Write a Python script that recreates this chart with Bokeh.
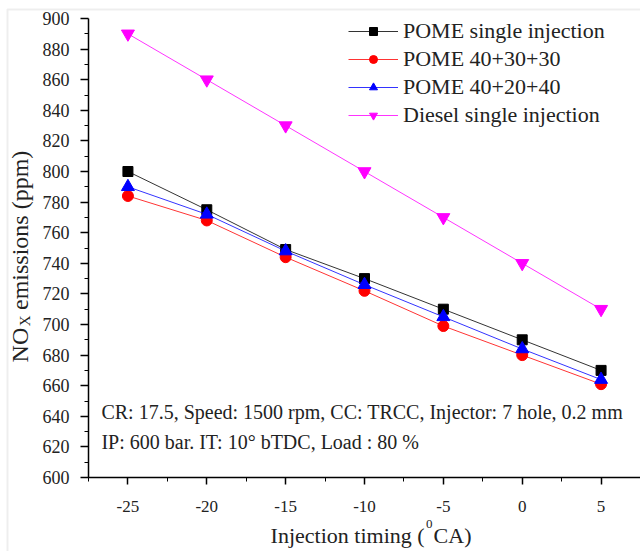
import math
from bokeh.plotting import figure
from bokeh.models import (Range1d, FixedTicker, Legend, LegendItem, Label, BoxAnnotation, LinearAxis)
from bokeh.embed import file_html
from bokeh.resources import INLINE

# ---- data ----
timing = [-25, -20, -15, -10, -5, 0, 5]
pome_single = [800, 775, 749, 730, 710, 690, 670]
pome_403030 = [784, 768, 744, 722, 699, 680, 661]
pome_402040 = [790, 772, 748, 726, 705, 684, 664]
diesel_single = [890, 860, 830, 800, 770, 740, 710]

series_names = ["POME single injection", "POME 40+30+30", "POME 40+20+40", "Diesel single injection"]
x_ticks = [-25, -20, -15, -10, -5, 0, 5]
x_minor = [-27.5, -22.5, -17.5, -12.5, -7.5, -2.5, 2.5, 7.5]
y_ticks = [600, 620, 640, 660, 680, 700, 720, 740, 760, 780, 800, 820, 840, 860, 880, 900]
y_minor = [610, 630, 650, 670, 690, 710, 730, 750, 770, 790, 810, 830, 850, 870, 890]

note1 = "CR: 17.5, Speed: 1500 rpm, CC: TRCC, Injector: 7 hole, 0.2 mm"
note2 = "IP: 600 bar. IT: 10\u00b0 bTDC, Load : 80 %"

FONT = "Liberation Serif"
XMIN, XMAX = -27.5, 7.5
YMIN, YMAX = 600, 900

# frame covers the whole canvas; axes are pinned inside with fixed_location
p = figure(width=640, height=551, output_backend="svg", toolbar_location=None,
           x_range=Range1d(-33.08, 7.5), y_range=Range1d(551.634, 911.765),
           x_axis_location=None, y_axis_location=None,
           min_border_left=0, min_border_right=0, min_border_top=0, min_border_bottom=0)
p.outline_line_color = None
p.xgrid.visible = False
p.ygrid.visible = False
p.background_fill_color = "white"
p.border_fill_color = "white"

xax = LinearAxis(fixed_location=YMIN, bounds=(XMIN, XMAX))
yax = LinearAxis(fixed_location=XMIN, bounds=(YMIN, YMAX))
p.add_layout(xax, "below")
p.add_layout(yax, "left")

for ax in (xax, yax):
    ax.axis_line_color = "black"
    ax.axis_line_width = 1.5
    ax.major_tick_line_color = "black"
    ax.minor_tick_line_color = "black"
    ax.major_tick_line_width = 1.5
    ax.minor_tick_line_width = 1
    ax.major_tick_in = 0
    ax.minor_tick_in = 0
    ax.major_label_text_font = FONT
    ax.major_label_text_color = "#222222"

xax.ticker = FixedTicker(ticks=x_ticks, minor_ticks=x_minor)
yax.ticker = FixedTicker(ticks=y_ticks, minor_ticks=y_minor)
xax.major_label_overrides = {t: str(t) for t in x_ticks}
xax.major_label_text_font_size = "17px"
yax.major_label_text_font_size = "18px"
xax.major_tick_out = 7
xax.minor_tick_out = 4
yax.major_tick_out = 8
yax.minor_tick_out = 4
xax.major_label_standoff = 16
yax.major_label_standoff = 11

colors = ["black", "#ff0000", "#0000ff", "#ff00ff"]
markers = ["square", "circle", "triangle", "inverted_triangle"]
sizes = [10, 11, 13, 13]
data = [pome_single, pome_403030, pome_402040, diesel_single]

items = []
for name, ys, c, m, s in zip(series_names, data, colors, markers, sizes):
    r1 = p.line(timing, ys, line_color=c, line_width=1, line_alpha=0.8)
    r2 = p.scatter(timing, ys, marker=m, size=s, fill_color=c, line_color=c)
    items.append(LegendItem(label=name, renderers=[r1, r2]))

legend = Legend(items=items, location=(348, 423), orientation="vertical",
                border_line_color=None, background_fill_alpha=0,
                label_text_font=FONT, label_text_font_size="22px", label_text_color="#222222",
                glyph_width=50, glyph_height=20, label_height=20, label_standoff=5,
                spacing=2, padding=0, margin=0)
p.add_layout(legend, "center")

txt = dict(text_font=FONT, text_color="#222222", text_baseline="alphabetic")
p.add_layout(Label(x=-26.68, y=642.5, text=note1, text_font_size="20px", **txt))
p.add_layout(Label(x=-26.68, y=623.0, text=note2, text_font_size="20px", **txt))

# x axis title with superscript
p.add_layout(Label(x=-6.19, y=562.3, text="Injection timing (", text_align="right",
                   text_font_size="22px", **txt))
p.add_layout(Label(x=-6.10, y=569.8, text="0", text_align="left",
                   text_font_size="13px", **txt))
p.add_layout(Label(x=-5.62, y=562.3, text="CA)", text_align="left",
                   text_font_size="22px", **txt))

# y axis title with subscript
a = math.pi / 2
p.add_layout(Label(x=-31.87, y=675.2, text="NO", angle=a, text_align="left",
                   text_font_size="24px", **txt))
p.add_layout(Label(x=-31.50, y=698.9, text="X", angle=a, text_align="left",
                   text_font_size="15px", **txt))
p.add_layout(Label(x=-31.87, y=709.5, text="emissions (ppm)", angle=a, text_align="left",
                   text_font_size="24px", **txt))

# light grey picture border
p.add_layout(BoxAnnotation(left=-32.636, right=9.0, top=905.88, bottom=540,
                           fill_alpha=0, line_color="#c8c8c8", line_width=2))

open("out.html", "w").write(file_html(p, INLINE))
